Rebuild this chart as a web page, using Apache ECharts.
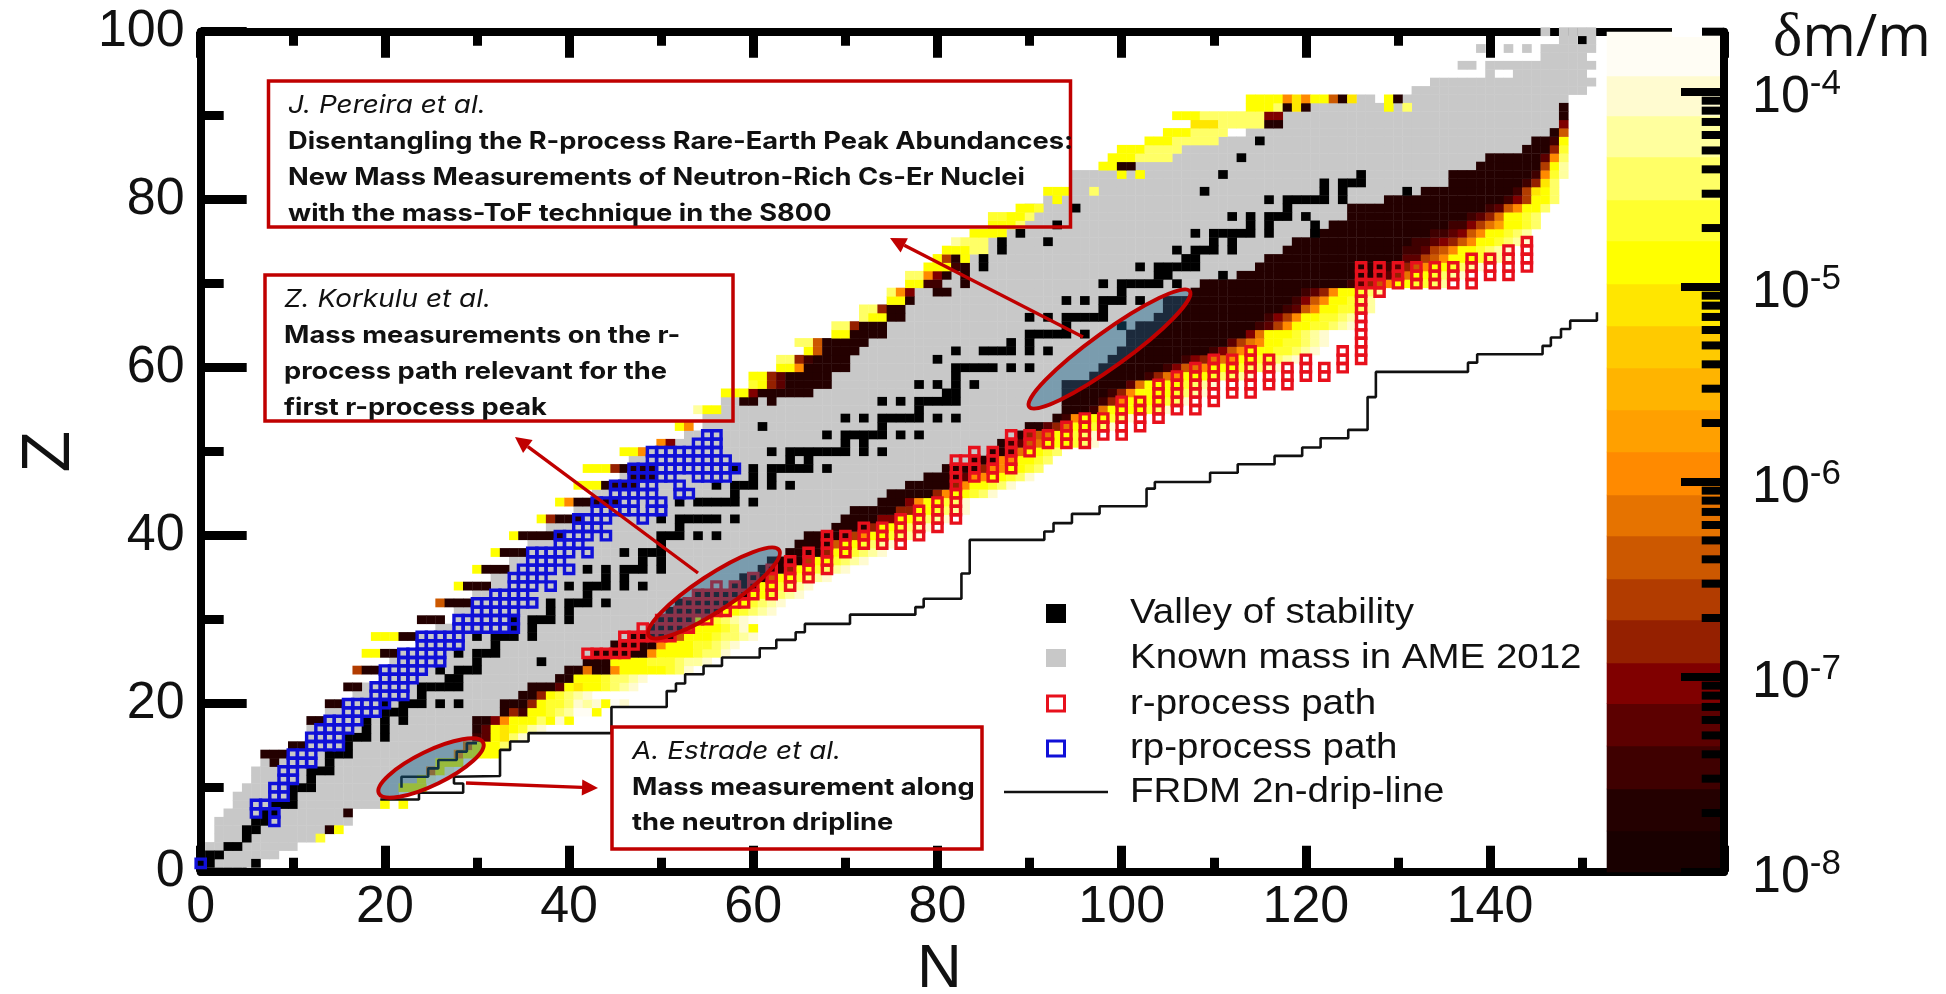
<!DOCTYPE html>
<html><head><meta charset="utf-8"><style>html,body{margin:0;background:#fff}#c{width:1946px;height:994px}</style>
<script src="https://cdn.jsdelivr.net/npm/echarts@6/dist/echarts.min.js"></script></head>
<body><div id="c"></div>
<script>
// colour bar: δm/m band palette, bottom to top, with band edges as log10(δm/m)
const palette=['#190000','#240000','#3f0000','#5c0000','#800000','#952000','#b23c00','#cc5800','#e67300','#ff8a00','#ffa000','#ffb400','#ffca00','#ffe600','#ffff00','#ffff2e','#ffff66','#ffff9e','#fffbd0','#fffdf4'];
const bandEdges=[-8,-7.79,-7.574,-7.354,-7.138,-6.928,-6.708,-6.497,-6.277,-6.067,-5.846,-5.631,-5.415,-5.2,-4.985,-4.764,-4.554,-4.333,-4.123,-3.918,-3.692];
const decades=[-8,-7,-6,-5,-4];
const minorTickMultipliers=[2,3,4,5,6,7,8,9];
const xTicks=[0,20,40,60,80,100,120,140];
// known masses (AME 2012): [Z, first N, last N]
const knownSpans=[[1,0,5],[2,1,8],[3,1,10],[4,2,12],[5,2,13],[6,2,16],[7,3,15],[8,4,19],[9,4,21],[10,5,21],[11,6,23],[12,6,24],[13,7,25],[14,10,27],[15,12,28],[16,12,29],[17,12,29],[18,14,29],[19,14,32],[20,16,32],[21,17,34],[22,18,35],[23,20,38],[24,20,39],[25,21,41],[26,22,42],[27,24,44],[28,24,46],[29,26,48],[30,28,49],[31,28,50],[32,30,51],[33,30,53],[34,32,57],[35,32,58],[36,34,60],[37,34,61],[38,36,63],[39,36,64],[40,38,65],[41,38,68],[42,41,69],[43,41,70],[44,43,73],[45,43,74],[46,45,76],[47,46,78],[48,46,80],[49,47,83],[50,48,85],[51,52,86],[52,53,88],[53,55,89],[54,55,92],[55,57,93],[56,57,93],[57,60,93],[58,62,93],[59,63,96],[60,64,97],[61,65,98],[62,68,99],[63,68,100],[64,70,100],[65,71,101],[66,74,103],[67,74,104],[68,77,104],[69,77,107],[70,79,108],[71,80,112],[72,82,114],[73,83,115],[74,84,117],[75,86,118],[76,88,120],[77,90,122],[78,90,124],[79,90,124],[80,92,128],[81,95,132],[82,95,135],[83,95,135],[84,102,138],[85,106,139],[86,107,143],[87,111,144],[88,114,146],[89,118,147],[90,118,147],[91,121,147],[92,126,127],[92,131,148],[93,132,150],[94,134,151],[95,140,140],[95,143,150],[96,137,138],[96,140,151],[97,146,150],[98,139,139],[98,142,142],[98,144,144],[98,146,151],[99,148,149],[99,151,151],[100,146,146],[100,148,151]];
// δm/m band per nucleus: [Z, first N, one band character per N]; 0-9a-j index the palette
const neutronRichRows=[[4,13,'f'],[5,14,'1e'],[7,16,'1'],[8,20,'e'],[8,22,'e'],[10,22,'eee'],[11,24,'ei'],[12,25,'8ei'],[13,26,'eee'],[14,28,'9eeee'],[15,29,'8eeeg'],[16,30,'23edgi'],[17,30,'13edefhi'],[18,30,'1149eeegeie'],[19,33,'152eefghjje'],[20,33,'1115effgihieji'],[21,35,'115efghi'],[22,36,'1113edeefghi'],[23,39,'11eeefgghi'],[24,40,'118119eeeeefgi'],[25,42,'111eeeefffghhi'],[26,43,'1111119eeeefggi'],[27,45,'111119eeeffghi'],[28,47,'111117eeefgghi'],[29,49,'11117eeefgii'],[29,60,'e'],[30,50,'1111eefghij'],[31,51,'111111eefghi'],[32,52,'111111eefghi'],[33,54,'111111eefghi'],[34,58,'111eefghi'],[35,59,'1117eefghi'],[36,61,'1115eefghi'],[37,62,'11116eefghi'],[38,64,'11115eefghi'],[39,65,'11117eefghi'],[40,66,'1111169eefghi'],[41,69,'11115eefghi'],[42,70,'111144eefghi'],[43,71,'1111155eefghi'],[44,74,'11149eefgi'],[45,75,'1111159eefgi'],[46,77,'1111159eefgi'],[47,79,'1111399eefgi'],[48,81,'1111599eefg'],[49,84,'11199eefg'],[50,86,'1128eefg'],[51,87,'12378eeefgi'],[52,89,'1578eefgi'],[53,90,'11358eefgi'],[54,93,'129eeefgi'],[55,94,'11128eeeefgi'],[56,94,'1111259eeeefgi'],[57,94,'11111259eeeefghi'],[58,94,'111111138eeeefghi'],[59,97,'1111112589eeefgghi'],[60,98,'111111124789eeefgghi'],[61,99,'11111111245889eeffghi'],[62,100,'11111111112479eeeffghi'],[63,101,'111111111113689eeffghi'],[64,101,'111111111111148eeefghi'],[65,102,'11111111111112369eeffghi'],[66,104,'1111111111112469eeffgh'],[67,105,'11111111111112379eeffgh'],[68,105,'111111111111112479eefgh'],[69,108,'1111111111112359eefgh'],[70,109,'111111111111111123579eeffgh'],[71,113,'1111111111111112358eefghi'],[72,115,'1111111111111123579eefghi'],[73,116,'11111111111111133679eeefghi'],[74,118,'1111111111111223679eefghi'],[75,119,'11111111111112234579eefghi'],[76,121,'1111111111111223479eefgh'],[77,123,'111111111111122468aeefg'],[78,125,'11111111111112358eefg'],[79,125,'1111111111111112379eeg'],[80,129,'1111111111111246eeg'],[81,133,'111111111126deg'],[82,136,'1111111125dg'],[83,136,'11111111129fh'],[84,139,'11111116eh'],[85,140,'11111139g'],[86,144,'1115f'],[87,145,'112e'],[88,147,'17'],[89,148,'4'],[90,148,'1'],[91,148,'1']];
const protonRichRows=[[13,8,'1'],[14,7,'111'],[15,10,'11'],[18,12,'11'],[20,14,'11'],[22,16,'11'],[24,17,'611'],[26,18,'ee11'],[28,19,'eee11'],[30,24,'111'],[32,26,'7111'],[34,28,'e111'],[36,30,'e111'],[38,32,'e111'],[40,34,'e11111'],[42,37,'e5111'],[44,39,'e911111'],[46,41,'eee1111'],[47,47,'111'],[48,42,'eee51111'],[50,46,'ee9'],[51,50,'94'],[53,52,'e9'],[55,54,'hee'],[56,59,'11'],[56,62,'1'],[57,57,'eee4111111'],[58,60,'fe5311111'],[59,60,'ee5311111'],[60,63,'ee911111'],[61,63,'gg521111'],[62,66,'e71111'],[63,65,'gg711111'],[64,69,'ee1111'],[65,69,'gg5111'],[66,72,'gee11'],[67,72,'gg511'],[68,75,'ee1'],[69,75,'g94'],[69,80,'11'],[70,77,'ee22'],[70,83,'1'],[71,77,'gg941'],[71,83,'1'],[72,79,'eee21'],[73,80,'e61e'],[74,81,'eeegg'],[75,82,'hggg'],[76,84,'eeee'],[77,86,'eeeg'],[78,86,'ffeeg'],[79,89,'eef'],[80,93,'e'],[81,92,'eee'],[81,97,'g'],[83,100,'e'],[83,102,'e'],[84,98,'ee11'],[85,99,'eeegggg'],[86,100,'eeegggg'],[87,103,'eeeggggg'],[88,105,'eeegggg'],[89,108,'dddggggg'],[89,116,'11'],[90,106,'eeeggggggg'],[90,116,'44'],[91,114,'eeeg'],[91,118,'1d1'],[91,129,'e'],[91,131,'g'],[92,114,'eeee9d9ee71d'],[92,129,'e1']];
// valley of stability: [Z, stable N values]
const valleyRows=[[1,[0,1]],[2,[1,2]],[3,[3,4]],[4,[5]],[5,[5,6]],[6,[6,7]],[7,[7,8]],[8,[8,9,10]],[9,[10]],[10,[10,11,12]],[11,[12]],[12,[12,13,14]],[13,[14]],[14,[14,15,16]],[15,[16]],[16,[16,17,18,20]],[17,[18,20]],[18,[18,20,22]],[19,[20,21,22]],[20,[20,22,23,24,26,28]],[21,[24]],[22,[24,25,26,27,28]],[23,[27,28]],[24,[26,28,29,30]],[25,[30]],[26,[28,30,31,32]],[27,[32]],[28,[30,32,33,34,36]],[29,[34,36]],[30,[34,36,37,38,40]],[31,[38,40]],[32,[38,40,41,42,44]],[33,[42]],[34,[40,42,43,44,46,48]],[35,[44,46]],[36,[42,44,46,47,48,50]],[37,[48,50]],[38,[46,48,49,50]],[39,[50]],[40,[50,51,52,54,56]],[41,[52]],[42,[50,52,53,54,55,56,58]],[44,[52,54,55,56,57,58,60]],[45,[58]],[46,[56,58,59,60,62,64]],[47,[60,62]],[48,[58,60,62,63,64,65,66,68]],[49,[64,66]],[50,[62,64,65,66,67,68,69,70,72,74]],[51,[70,72]],[52,[68,70,71,72,73,74,76,78]],[53,[74]],[54,[70,72,74,75,76,77,78,80,82]],[55,[78]],[56,[74,76,78,79,80,81,82]],[57,[81,82]],[58,[78,80,82,84]],[59,[82]],[60,[82,83,84,85,86,88,90]],[61,[80]],[62,[82,85,86,87,88,90,92]],[63,[88,90]],[64,[90,91,92,93,94,96]],[65,[94,100]],[66,[90,92,94,95,96,97,98]],[67,[98]],[68,[94,96,98,99,100,102]],[69,[100]],[70,[98,100,101,102,103,104,106]],[71,[104,105,111]],[72,[85,102,104,105,106,107,108]],[73,[85,107,108]],[74,[87,106,108,109,110,112]],[75,[87,92,110,112]],[76,[89,108,110,111,112,113,114,116,121]],[77,[93,114,116,121]],[78,[112,114,116,117,118,120]],[79,[95,118]],[80,[116,118,119,120,121,122,124]],[81,[109,122,124,131]],[82,[122,124,125,126]],[83,[111,126]],[85,[113]],[87,[115]],[25,[37]],[53,[61]],[1,[6]]];
// r-process path: [N, first Z, last Z]
const rPathColumns=[[42,26,26],[43,26,26],[44,26,26],[45,26,26],[46,26,28],[47,27,28],[48,28,29],[49,28,28],[50,28,30],[51,28,30],[52,29,31],[53,29,32],[54,30,33],[55,30,33],[56,31,34],[57,31,33],[58,32,34],[59,32,33],[60,33,35],[62,33,36],[64,34,37],[66,35,38],[68,36,40],[70,38,40],[72,39,41],[74,39,41],[76,39,42],[78,40,43],[80,41,44],[82,42,49],[83,49,49],[84,47,50],[86,47,50],[88,48,52],[90,50,52],[92,51,52],[94,51,53],[96,51,54],[98,52,54],[100,52,56],[102,53,56],[104,54,58],[106,55,59],[108,55,60],[110,56,61],[112,57,61],[114,57,62],[116,58,61],[118,58,60],[120,59,61],[122,59,60],[124,60,62],[126,61,72],[127,70,70],[128,69,72],[130,70,72],[132,70,72],[134,70,72],[136,70,72],[138,70,73],[140,71,73],[142,71,74],[144,72,75]];
// rp-process path: [Z, first N, last N]
const rpPathSpans=[[1,0,0],[6,8,8],[7,6,6],[7,8,8],[8,6,7],[9,8,9],[10,8,9],[11,9,10],[12,9,10],[13,10,12],[14,10,12],[15,12,15],[16,12,15],[17,13,16],[18,14,17],[19,16,19],[20,16,20],[21,19,22],[22,19,22],[23,20,23],[24,20,24],[25,22,26],[26,22,26],[27,24,28],[28,24,28],[29,28,34],[30,28,34],[31,30,34],[32,30,36],[33,32,35],[34,34,36],[34,38,38],[35,34,37],[36,35,38],[36,40,40],[37,36,39],[38,36,40],[38,42,42],[39,39,41],[40,39,42],[40,44,44],[41,41,43],[42,41,44],[42,48,48],[43,43,47],[43,49,50],[44,43,47],[44,49,50],[45,45,49],[45,52,53],[46,45,49],[46,52,52],[47,47,51],[47,54,57],[48,47,58],[49,49,57],[50,49,56],[51,54,56],[52,55,56]];
// FRDM 2n drip line staircase vertices [N, Z]
const frdmEllipsePart=[[21.8,10],[21.8,11.3],[24.7,11.3],[24.7,12.3],[25.8,12.3],[25.8,13.3],[27.8,13.3],[27.8,14.3],[28.9,14.3],[28.9,15.3],[30,15.3]];
const frdmLine=[[19.5,8.6],[23.7,8.6],[23.7,9.4],[28.5,9.4],[28.5,10.5],[27.5,10.5],[27.5,11.3],[32.5,11.4],[32.5,14.5],[33.6,14.5],[33.6,15.5],[35.6,15.5],[35.6,16.5],[44.6,16.5],[44.6,19.6],[50.6,19.6],[50.6,21.5],[51.6,21.5],[51.6,22.4],[52.6,22.4],[52.6,23.5],[54.6,23.5],[54.6,24.5],[56.6,24.5],[56.6,25.5],[60.7,25.5],[60.7,26.6],[62.5,26.6],[62.5,27.6],[64.6,27.6],[64.6,28.5],[65.6,28.5],[65.6,29.5],[70.5,29.5],[70.5,30.6],[77.6,30.6],[77.6,31.5],[78.5,31.5],[78.5,32.5],[82.6,32.5],[82.6,35.5],[83.5,35.5],[83.5,39.5],[91.6,39.5],[91.6,40.5],[92.6,40.5],[92.6,41.5],[94.6,41.5],[94.6,42.6],[97.6,42.6],[97.6,43.5],[102.7,43.5],[102.7,45.6],[103.6,45.6],[103.6,46.4],[109.6,46.4],[109.6,47.5],[112.6,47.5],[112.6,48.5],[116.6,48.5],[116.6,49.5],[119.6,49.5],[119.6,50.5],[121.6,50.5],[121.6,51.6],[124.6,51.6],[124.6,52.6],[126.7,52.6],[126.7,56.5],[127.6,56.5],[127.6,59.5],[137.6,59.5],[137.6,60.6],[138.6,60.6],[138.6,61.6],[145.7,61.6],[145.7,62.6],[146.6,62.6],[146.6,63.6],[147.7,63.6],[147.7,64.6],[148.7,64.6],[148.7,65.6],[151.6,65.6],[151.6,66.6]];
const legendLabels=['Valley of stability','Known mass in AME 2012','r-process path','rp-process path','FRDM 2n-drip-line'];
const boxTexts=[
 {author:'J. Pereira et al.',lines:['Disentangling the R-process Rare-Earth Peak Abundances:','New Mass Measurements of Neutron-Rich Cs-Er Nuclei','with the mass-ToF technique in the S800']},
 {author:'Z. Korkulu et al.',lines:['Mass measurements on the r-','process path relevant for the','first r-process peak']},
 {author:'A. Estrade et al.',lines:['Mass measurement along','the neutron dripline']}];

// ---- tables the series need
const BAND='0123456789abcdefghij';
const known=[];knownSpans.forEach(([z,a,b])=>{for(let n=a;n<=b;n++)known.push([n,z])});
const measured=[];neutronRichRows.concat(protonRichRows).forEach(([z,n,s])=>{[...s].forEach((c,i)=>measured.push([n+i,z,BAND.indexOf(c)]))});
const valley=[];valleyRows.forEach(([z,ns])=>ns.forEach(n=>valley.push([n,z])));
const rPath=[];rPathColumns.forEach(([n,a,b])=>{for(let z=a;z<=b;z++)rPath.push([n,z])});
const rpPath=[];rpPathSpans.forEach(([z,a,b])=>{for(let n=a;n<=b;n++)rpPath.push([n,z])});
const bands=palette.map((c,i)=>[bandEdges[i],bandEdges[i+1],i]);
const minorTicks=[];decades.slice(0,4).forEach(d=>minorTickMultipliers.forEach(m=>minorTicks.push([d+Math.log10(m)])));minorTicks.push([bandEdges[20]]);

function cellFill(fill){return (p,api)=>{const c=api.coord([api.value(0),api.value(1)]),s=api.size([1,1]);
 return {type:'rect',shape:{x:c[0]-s[0]/2-.2,y:c[1]-s[1]/2-.2,width:s[0]+.4,height:s[1]+.4},style:{fill:typeof fill==='function'?fill(api):fill}}}}
function cellStroke(stroke){return (p,api)=>{const c=api.coord([api.value(0),api.value(1)]),s=api.size([1,1]);
 return {type:'rect',shape:{x:c[0]-s[0]/2,y:c[1]-s[1]/2,width:s[0],height:s[1]},style:{fill:'none',stroke:stroke,lineWidth:3.4}}}}
const cellSeries=(name,data,render,z)=>({name,type:'custom',data,renderItem:render,encode:{x:0,y:1},z,silent:true,animation:false,xAxisIndex:0,yAxisIndex:0,clip:false});

const RED='#c00000',LABEL='#111',SANS='"Liberation Sans",Arial,sans-serif',BOXFONT='Inter,"Noto Sans",sans-serif';
const g=[];
function addBox(x,y,w,h,tx,ty,pitch,t){
 g.push({type:'rect',z:30,shape:{x,y,width:w,height:h},style:{fill:'none',stroke:RED,lineWidth:3.5}});
 g.push({type:'text',z:31,x:tx,y:ty+2,scaleX:1.14,style:{x:0,y:0,text:t.author,fontFamily:BOXFONT,fontSize:24.5,fontStyle:'italic',fill:'#111',textVerticalAlign:'middle'}});
 t.lines.forEach((l,i)=>g.push({type:'text',z:31,x:tx,y:ty+2+pitch*(i+1),scaleX:1.135,style:{x:0,y:0,text:l,fontFamily:BOXFONT,fontSize:24,fontWeight:700,fill:'#111',textVerticalAlign:'middle'}}));
}
addBox(268.5,81,802,146,288,104,36,boxTexts[0]);
addBox(265,275,468,146,284,298,36,boxTexts[1]);
addBox(612,727,370,122,632,750,35.5,boxTexts[2]);
[[431,768,58,17,26],[714,593,78,18,33.4],[1109.5,349,99,17.5,35.8]].forEach(([x,y,a,b,r])=>g.push({type:'ellipse',z:28,x,y,rotation:r*Math.PI/180,shape:{cx:0,cy:0,rx:a,ry:b},style:{fill:'rgba(18,98,140,0.43)',stroke:RED,lineWidth:4}}));
[[1083,337,890,238],[698,573,515,437],[466,783,598,788]].forEach(([x1,y1,x2,y2])=>{
 const a=Math.atan2(y2-y1,x2-x1),L=16,W=8,bx=x2-L*Math.cos(a),by=y2-L*Math.sin(a);
 g.push({type:'line',z:29,shape:{x1,y1,x2:bx,y2:by},style:{stroke:RED,lineWidth:3.4}});
 g.push({type:'polygon',z:29,shape:{points:[[x2,y2],[bx-W*Math.sin(a),by+W*Math.cos(a)],[bx+W*Math.sin(a),by-W*Math.cos(a)]]},style:{fill:RED}});
});
// legend
const legY=[613,658,704,748,792];
legendLabels.forEach((t,i)=>g.push({type:'text',z:31,x:1130,y:legY[i],scaleX:1.1,style:{x:0,y:0,text:t,fontFamily:SANS,fontSize:35,fill:LABEL,textVerticalAlign:'middle'}}));
g.push({type:'rect',z:31,shape:{x:1046,y:604,width:20,height:19},style:{fill:'#000'}});
g.push({type:'rect',z:31,shape:{x:1046,y:649,width:20,height:18},style:{fill:'#c8c8c8'}});
g.push({type:'rect',z:31,shape:{x:1047.5,y:696,width:17,height:15},style:{fill:'none',stroke:'#e8101c',lineWidth:3}});
g.push({type:'rect',z:31,shape:{x:1047.5,y:741,width:17,height:15},style:{fill:'none',stroke:'#1010d8',lineWidth:3}});
g.push({type:'line',z:31,shape:{x1:1004,y1:792,x2:1108,y2:792},style:{stroke:'#111',lineWidth:2.6}});
g.push({type:'rect',z:27,shape:{x:1672,y:25,width:30,height:12},style:{fill:'#fff'}});

const tickAxis=(extra)=>Object.assign({type:'value',min:0,max:165.4,interval:20,axisLine:{show:true,onZero:false,lineStyle:{color:'#000',width:8}},axisTick:{inside:true,length:26,lineStyle:{color:'#000',width:9}},minorTick:{show:true,splitNumber:2,length:14,lineStyle:{color:'#000',width:9}},splitLine:{show:false},minorSplitLine:{show:false}},extra);
const option={
 animation:false,backgroundColor:'#fff',
 title:{text:'{a|δ}{b|m/m}',left:1768,top:3,textStyle:{fontWeight:'normal',rich:{a:{fontFamily:'"Liberation Serif",serif',fontSize:62,fontWeight:'normal',color:LABEL},b:{fontFamily:'"Open Sans",sans-serif',fontSize:58,fontWeight:'normal',color:LABEL}}}},
 grid:[{left:200.7,top:31.7,width:1523.3,height:840,outerBoundsMode:'none'},{left:1606.7,top:31.7,width:117.3,height:840,outerBoundsMode:'none'}],
 xAxis:[
  tickAxis({gridIndex:0,position:'bottom',name:'N',nameLocation:'middle',nameGap:66,nameTextStyle:{fontFamily:SANS,fontSize:62,color:LABEL,padding:[0,46,0,0]},axisLabel:{fontFamily:SANS,fontSize:52,color:LABEL,margin:10,hideOverlap:false,customValues:xTicks}}),
  tickAxis({gridIndex:0,position:'top',axisLabel:{show:false}}),
  {type:'value',gridIndex:1,min:0,max:1,show:false}],
 yAxis:[
  {type:'value',gridIndex:0,min:0,max:100,interval:20,name:'Z',nameLocation:'middle',nameGap:116,nameRotate:90,nameTextStyle:{fontFamily:SANS,fontSize:68,color:LABEL},axisLine:{show:true,onZero:false,lineStyle:{color:'#000',width:8}},axisTick:{inside:true,length:46,lineStyle:{color:'#000',width:9}},minorTick:{show:true,splitNumber:2,length:23,lineStyle:{color:'#000',width:9}},splitLine:{show:false},minorSplitLine:{show:false},axisLabel:{fontFamily:SANS,fontSize:52,color:LABEL,margin:16}},
  {type:'value',gridIndex:1,position:'right',min:-8,max:bandEdges[20],z:10,splitLine:{show:false},axisLine:{show:true,onZero:false,lineStyle:{color:'#000',width:8}},axisTick:{inside:true,length:43,customValues:decades,lineStyle:{color:'#000',width:8}},axisLabel:{margin:28,padding:[12,0,0,0],customValues:decades,formatter:v=>`{a|10}{b|${v}}`,rich:{a:{fontFamily:SANS,fontSize:52,color:LABEL,lineHeight:60},b:{fontFamily:SANS,fontSize:35,color:LABEL,lineHeight:60,padding:[0,0,26,0]}}}}],
 graphic:g,
 series:[
  cellSeries('Known mass in AME 2012',known,cellFill('#c8c8c8'),3),
  cellSeries('δm/m',measured,cellFill(api=>palette[api.value(2)]),4),
  cellSeries('Valley of stability',valley,cellFill('#000'),5),
  cellSeries('r-process path',rPath,cellStroke('#e8101c'),6),
  cellSeries('rp-process path',rpPath,cellStroke('#1010d8'),7),
  {name:'FRDM 2n-drip-line',type:'line',data:frdmLine,showSymbol:false,z:8,silent:true,animation:false,lineStyle:{color:'#111',width:2.6}},
  {name:'FRDM 2n-drip-line (low)',type:'line',data:frdmEllipsePart,showSymbol:false,z:8,silent:true,animation:false,lineStyle:{color:'#111',width:2.6}},
  {name:'colour bar',type:'custom',xAxisIndex:2,yAxisIndex:1,data:bands,encode:{y:[0,1]},z:9,silent:true,animation:false,renderItem:(p,api)=>{const a=api.coord([0,api.value(0)]),b=api.coord([1,api.value(1)]);return {type:'rect',shape:{x:a[0],y:b[1],width:b[0]-a[0],height:a[1]-b[1]+.5},style:{fill:palette[api.value(2)]}}}},
  {name:'colour bar minor ticks',type:'custom',xAxisIndex:2,yAxisIndex:1,data:minorTicks,encode:{y:0},z:11,silent:true,animation:false,renderItem:(p,api)=>{const a=api.coord([0.81,api.value(0)]),b=api.coord([1,api.value(0)]);return {type:'rect',shape:{x:a[0],y:a[1]-4,width:b[0]-a[0],height:8},style:{fill:'#000'}}}}
 ]};
const chart=echarts.init(document.getElementById('c'),null,{renderer:'canvas',width:1946,height:994});
chart.setOption(option);
</script></body></html>
